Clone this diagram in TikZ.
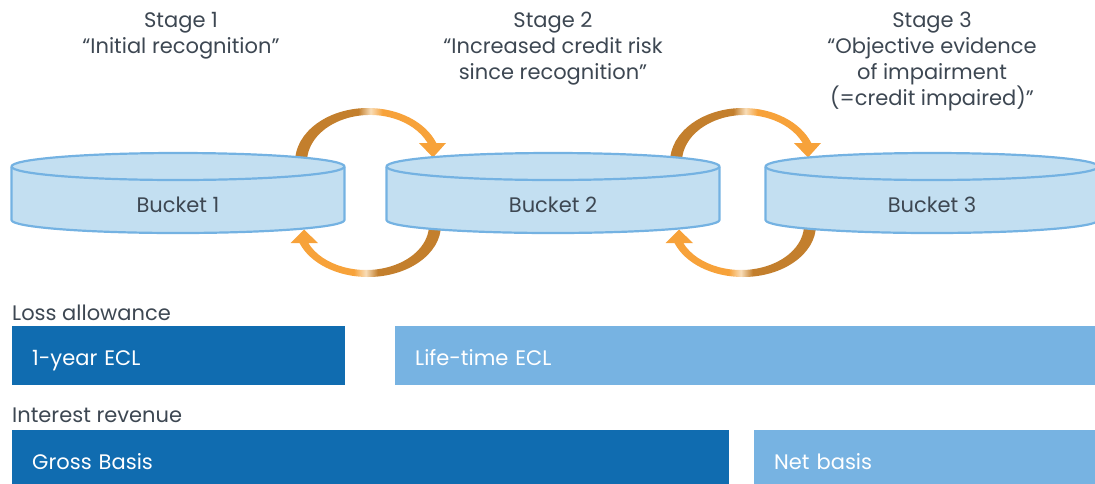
\documentclass[tikz,border=0pt]{standalone}
\usepackage{fontspec}
\setmainfont{Poppins}
\definecolor{txt}{HTML}{3D4752}
\definecolor{bfill}{HTML}{C3DFF1}
\definecolor{bline}{HTML}{74B2E2}
\definecolor{dblue}{HTML}{106CB0}
\definecolor{lblue}{HTML}{77B3E2}
\definecolor{adark}{HTML}{C37F2D}
\definecolor{alight}{HTML}{F8DDB8}
\definecolor{aorange}{HTML}{F7A23A}
\pgfdeclarehorizontalshading{arrowshade}{100bp}{color(0bp)=(adark); color(25bp)=(adark); color(46bp)=(adark); color(50bp)=(alight); color(54bp)=(aorange); color(75bp)=(aorange); color(100bp)=(aorange)}
\begin{document}
\begin{tikzpicture}[x=1pt,y=-1pt,
  lbl/.style={font=\fontsize{21}{26}\selectfont, text=txt, inner sep=0pt},
  stagetxt/.style={lbl, align=center, anchor=north},
  bucketlbl/.style={lbl, anchor=base},
  bar/.style={anchor=north west, minimum height=59pt, inner xsep=20pt, inner ysep=0pt,
     text height=19pt, text depth=0pt, align=left, text=white,
     font=\fontsize{21}{26}\selectfont},
  turn/.style={shading=arrowshade},
  turnback/.style={shading=arrowshade, shading angle=180},
  cylfill/.style={fill=bfill},
  cylline/.style={draw=bline, line width=2.2pt, line join=round}
]
\useasboundingbox (0,0) rectangle (1095,483);

% stage titles
\node[stagetxt] (s1) at (181,12) {Stage 1\\“Initial recognition”};
\node[stagetxt] (s2) at (553,12) {Stage 2\\“Increased credit risk\\since recognition”};
\node[stagetxt] (s3) at (932,12) {Stage 3\\“Objective evidence\\of impairment\\(=credit impaired)”};

% transition arrows (drawn behind the buckets)
\foreach \dx in {0,375}{
\begin{scope}[xshift=\dx pt]
  \shade[turn] (295,174) -- (295,162)
     arc[start angle=180, end angle=339.5, x radius=73, y radius=54]
     -- (446,143) -- (433,157.5) -- (419,143) -- (427.6,143)
     arc[start angle=336.2, end angle=180, x radius=63, y radius=47]
     -- (307,174) -- cycle;
  \shade[turnback] (441,214) -- (441,225)
     arc[start angle=0, end angle=159.7, x radius=73, y radius=52]
     -- (290.5,243) -- (304,229.5) -- (318,243) -- (308.3,243)
     arc[start angle=156.4, end angle=0, x radius=63, y radius=45]
     -- (429,214) -- cycle;
\end{scope}
}

% buckets
\foreach \cx/\n in {178/1, 553/2, 932/3}{
  \fill[cylfill] (\cx-166.5,166.5) -- (\cx-166.5,220)
     arc[start angle=180, end angle=0, x radius=166.5, y radius=13]
     -- (\cx+166.5,166.5)
     arc[start angle=0, end angle=-180, x radius=166.5, y radius=13.5] -- cycle;
  \draw[cylline] (\cx-166.5,166.5) -- (\cx-166.5,220)
     arc[start angle=180, end angle=0, x radius=166.5, y radius=13]
     -- (\cx+166.5,166.5);
  \draw[cylline] (\cx,166.5) ellipse[x radius=166.5, y radius=13.5];
  \node[bucketlbl] (b\n) at (\cx,212) {Bucket \n};
}

% loss allowance
\node[lbl, anchor=base west] (la) at (12,320) {Loss allowance};
\node[bar, fill=dblue, text width=293pt] (ecl1) at (12,326) {1-year ECL};
\node[bar, fill=lblue, text width=665pt] (ecll) at (395,326) {Life-time ECL};

% interest revenue
\node[lbl, anchor=base west] (ir) at (12,422) {Interest revenue};
\node[bar, fill=dblue, text width=677pt] (gross) at (12,430) {Gross Basis};
\node[bar, fill=lblue, text width=306pt] (net) at (754,430) {Net basis};
\end{tikzpicture}
\end{document}
